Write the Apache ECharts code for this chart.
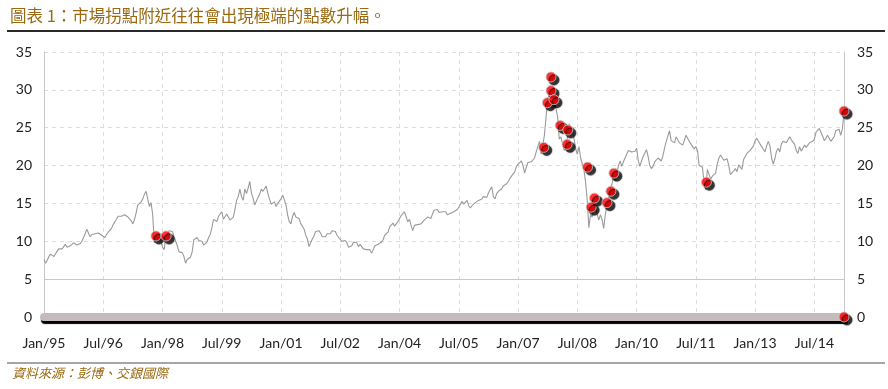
<!DOCTYPE html>
<html>
<head>
<meta charset="utf-8">
<script src="https://cdn.jsdelivr.net/npm/echarts@6/dist/echarts.min.js"></script>
<style>
html,body{margin:0;padding:0;background:#fff;}
#c{width:888px;height:389px;}
</style>
</head>
<body>
<div id="c"></div>
<script>
// X tick labels (every 18 months from Jan 1995)
const xTickLabels = ['Jan/95','Jul/96','Jan/98','Jul/99','Jan/01','Jul/02','Jan/04','Jul/05','Jan/07','Jul/08','Jan/10','Jul/11','Jan/13','Jul/14'];

// Index level (thousands), two readings per month (start / mid month)
const y1995 = [7.6,7.1,7.5,8.0,8.3,8.2,8.0,8.2,8.7,9.0,9.1,9.0,9.3,9.6,9.2,9.1,9.4,9.5,9.8,9.6,9.5,9.3,9.7,10.0];
const y1996 = [10.5,11.0,11.6,11.1,10.6,10.9,11.1,11.0,11.2,11.1,11.0,10.8,10.7,10.5,10.9,11.2,11.4,11.7,12.2,12.3,12.9,13.3,13.5,13.3];
const y1997 = [13.4,13.5,13.6,13.2,13.0,12.7,12.3,12.9,13.8,14.8,14.7,15.2,15.6,16.2,16.6,15.6,14.6,15.1,13.6,9.8,10.7,10.3,10.9,10.7];
const y1998 = [9.2,8.9,10.7,11.0,11.4,11.6,11.3,10.6,10.0,9.4,8.6,8.7,8.5,8.0,7.1,7.6,7.6,7.9,8.6,10.2,10.4,10.5,10.1,10.0];
const y1999 = [10.0,9.5,9.3,9.9,10.5,10.9,11.8,12.9,12.8,12.6,13.3,13.5,13.9,12.9,13.0,13.6,13.2,12.8,12.9,13.2,14.2,15.4,15.9,16.9];
const y2000 = [15.9,15.4,16.9,16.3,17.0,17.9,16.4,15.7,14.8,14.6,15.8,16.2,16.9,16.6,16.8,17.3,16.3,15.6,14.9,14.8,15.2,14.6,15.0,15.1];
const y2001 = [15.6,16.1,15.5,14.8,13.5,12.6,12.3,13.3,13.8,13.2,13.1,13.0,12.3,12.0,11.6,10.8,10.3,9.3,9.8,10.3,10.7,11.3,11.4,11.4];
const y2002 = [11.1,10.6,10.5,10.6,11.0,10.9,11.0,11.4,11.6,11.3,10.8,10.5,10.3,10.0,10.2,10.1,9.8,9.2,9.1,9.4,9.9,10.1,9.8,9.3];
const y2003 = [9.6,9.3,9.0,9.1,8.9,8.7,8.9,8.4,8.9,9.4,9.6,9.6,9.7,9.9,10.2,10.8,11.0,11.2,11.9,12.0,12.4,12.0,12.3,12.6];
const y2004 = [13.0,13.4,13.6,13.9,13.2,12.6,12.9,12.1,11.4,12.1,12.2,12.2,12.1,12.3,12.5,12.8,13.0,13.2,13.0,13.0,13.6,14.1,14.2,14.2];
const y2005 = [13.8,13.6,13.9,14.1,13.9,13.5,13.6,13.7,13.8,13.9,14.0,14.2,14.5,14.9,15.3,14.9,15.1,15.4,14.7,14.4,14.7,14.9,15.1,14.9];
const y2006 = [15.4,15.6,15.6,15.9,15.7,15.8,16.4,16.8,17.2,15.9,15.6,16.3,16.6,16.5,16.9,17.3,17.5,17.6,17.9,18.3,18.6,18.9,19.2,19.9];
const y2007 = [20.2,20.2,20.6,20.0,19.0,19.8,20.4,20.3,20.5,20.7,21.0,21.8,22.5,23.2,21.5,21.5,24.0,26.4,28.8,29.5,28.0,27.5,28.0,27.6];
const y2008 = [26.5,23.5,23.8,24.0,22.0,22.5,23.8,25.5,25.5,24.8,23.5,22.2,21.5,22.5,21.0,20.8,19.5,17.8,15.5,11.8,13.5,13.2,15.0,14.5];
const y2009 = [14.5,12.8,13.5,12.9,11.7,13.5,14.8,15.5,17.0,17.5,18.6,18.0,17.9,20.0,20.6,19.9,20.5,21.0,21.0,22.0,22.2,21.8,21.6,21.9];
const y2010 = [22.3,20.7,19.9,20.6,21.2,21.0,22.1,21.2,20.0,19.6,19.9,20.5,20.3,21.0,21.1,20.6,21.3,22.3,23.2,23.4,24.6,23.3,23.1,23.0];
const y2011 = [23.8,23.9,23.0,23.2,22.7,23.3,24.0,23.8,23.2,23.0,22.5,22.2,22.5,22.0,20.0,19.9,19.8,17.7,16.8,19.5,19.5,18.2,18.6,18.4];
const y2012 = [19.0,20.2,21.0,21.4,21.2,20.7,20.6,20.9,20.0,18.8,18.8,19.3,19.6,19.2,20.1,19.8,19.5,20.8,20.9,21.6,21.6,22.0,22.3,22.6];
const y2013 = [23.3,23.6,23.2,23.0,22.5,22.3,21.8,22.6,23.2,22.6,21.0,20.2,20.9,21.9,22.3,21.8,22.9,23.2,23.0,23.0,23.0,23.8,23.4,23.2];
const y2014 = [22.8,22.0,21.6,22.5,21.9,21.8,22.7,22.4,22.2,23.0,23.1,23.2,23.5,24.4,24.6,24.9,25.0,23.9,23.3,23.6,24.0,23.9,23.2,23.5];
const y2015 = [23.8,24.6,24.4,24.8,24.0,24.8,27.0];

// Extreme-move days: month offset from Jan 1995, index level
const extremeMonths = [34.0,37.1,151.8,152.9,154.0,154.0,154.9,156.8,158.9,159.1,165.1,166.2,167.2,171.0,172.2,173.1,201.2,243.0];
const extremeValues = [10.7,10.7,22.4,28.3,31.7,29.9,28.7,25.3,22.8,24.7,19.8,14.5,15.7,15.1,16.6,19.0,17.8,27.2];

// Baseline band (non-extreme days shown at zero)
const baselineMonths = [0, 243];
const baselineValues = [0, 0];
const zeroDotMonths = [243];
const zeroDotValues = [0];

const years = [y1995,y1996,y1997,y1998,y1999,y2000,y2001,y2002,y2003,y2004,y2005,y2006,y2007,y2008,y2009,y2010,y2011,y2012,y2013,y2014,y2015];
const hsi = [].concat(...years);
const lineData = hsi.map((v,i)=>[i*0.5, v]);
const extremeData = extremeMonths.map((m,i)=>[m, extremeValues[i]]);
const baselineData = baselineMonths.map((m,i)=>[m, baselineValues[i]]);
const zeroDotData = zeroDotMonths.map((m,i)=>[m, zeroDotValues[i]]);

const gold = '#9a6a12';
const dotStyle = {
  color:'#ff0000', borderColor:'#c8c8c8', borderWidth:1,
  shadowColor:'#000', shadowBlur:1, shadowOffsetX:3, shadowOffsetY:3
};

const chart = echarts.init(document.getElementById('c'), null, {renderer:'canvas'});
chart.setOption({
  animation:false,
  backgroundColor:'#fff',
  textStyle:{fontFamily:'Lato, "Noto Sans CJK TC", sans-serif'},
  grid:{left:44, right:44, top:52, bottom:72, containLabel:false},
  xAxis:{
    type:'value', min:0, max:243, interval:18,
    axisLine:{show:false}, axisTick:{show:false},
    axisLabel:{
      fontSize:14, color:'#222', margin:19, showMaxLabel:false,
      formatter:function(v){ return (v % 18 === 0 && xTickLabels[v/18]) ? xTickLabels[v/18] : ''; }
    },
    splitLine:{show:true, lineStyle:{color:'#dcdcdc', type:[4,4], width:1}}
  },
  yAxis:[{
    type:'value', min:0, max:35, interval:5, position:'left',
    axisLine:{show:true, lineStyle:{color:'#c8c8c8'}}, axisTick:{show:false},
    axisLabel:{fontSize:14, color:'#222', margin:12},
    splitLine:{show:true, lineStyle:{color:'#dcdcdc', type:[4,4], width:1}}
  },{
    type:'value', min:0, max:35, interval:5, position:'right',
    axisLine:{show:true, lineStyle:{color:'#c8c8c8'}}, axisTick:{show:false},
    axisLabel:{fontSize:14, color:'#222', margin:13},
    splitLine:{show:false}
  }],
  series:[
    {
      type:'line', data:lineData, showSymbol:false, symbol:'none',
      lineStyle:{color:'#9a9a9a', width:1.1}, z:2,
      markLine:{silent:true, symbol:'none', label:{show:false},
        lineStyle:{color:'#c8c8c8', type:'solid', width:1},
        data:[{yAxis:5}]}
    },
    {
      type:'line', data:baselineData, showSymbol:false, symbol:'none', z:3, clip:false,
      lineStyle:{color:'#c4bcbc', width:8, cap:'round',
        shadowColor:'#000', shadowBlur:1, shadowOffsetX:1, shadowOffsetY:3}
    },
    {
      type:'scatter', data:extremeData, symbol:'circle', symbolSize:10, z:5, clip:false,
      itemStyle:dotStyle
    },
    {
      type:'scatter', data:zeroDotData, symbol:'circle', symbolSize:10, z:5, clip:false,
      itemStyle:dotStyle
    }
  ],
  graphic:[
    {type:'text', left:10, top:7, style:{text:'圖表 1：市場拐點附近往往會出現極端的點數升幅。', fill:gold, fontSize:16.5, fontFamily:'"Noto Sans CJK TC", sans-serif'}},
    {type:'rect', shape:{x:7, y:30, width:878, height:2}, style:{fill:'#2a2a2a'}},
    {type:'rect', shape:{x:7, y:362, width:878, height:2}, style:{fill:'#a6a6a6'}},
    {type:'text', left:12, top:367, style:{text:'資料來源：彭博、交銀國際', fill:gold, fontSize:13, fontStyle:'italic', fontFamily:'"Noto Sans CJK TC", sans-serif'}}
  ]
});
</script>
</body>
</html>
